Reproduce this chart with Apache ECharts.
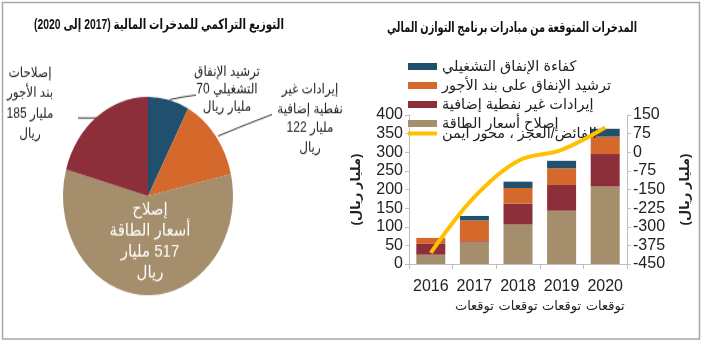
<!DOCTYPE html>
<html>
<head>
<meta charset="utf-8">
<script src="https://cdn.jsdelivr.net/npm/echarts@6/dist/echarts.min.js"></script>
<style>
  html, body { margin:0; padding:0; background:#fff; }
  #main { position:absolute; left:0; top:0; width:702px; height:343px; }
  #pie { position:absolute; left:0; top:0; width:360px; height:294px;
         transform:scaleY(1.1667); transform-origin:0 0; }
</style>
</head>
<body>
<div id="main"></div>
<div id="pie"></div>
<script>
// ---------- data ----------
const categories = ['2016', '2017', '2018', '2019', '2020'];
const categorySub = ['', 'توقعات', 'توقعات', 'توقعات', 'توقعات'];
const energyReform = [25, 58, 106, 143, 208];     // إصلاح أسعار الطاقة
const nonOilRevenue = [29, 3, 56, 69, 87];        // إيرادات غير نفطية إضافية
const wageRationalization = [16, 56, 42, 45, 47]; // ترشيد الإنفاق على بند الأجور
const opEfficiency = [0, 12, 17, 20, 21];         // كفاءة الإنفاق التشغيلي
const fiscalBalance = [-405, -180, -35, 10, 100]; // الفائض/العجز
const leftTicks = { min: 0, max: 400, interval: 50 };
const rightTicks = { min: -450, max: 150, interval: 75 };

const LRM = '\u200E', RLM = '\u200F';
const pieNames = ['ترشيد الإنفاق التشغيلي', 'إيرادات غير نفطية إضافية', 'إصلاح أسعار الطاقة', 'إصلاحات بند الأجور'];
const pieValues = [70, 122, 517, 185];
const pieLabelText = [
  'ترشيد الإنفاق\n' + RLM + 'التشغيلي #\nمليار ريال',
  'إيرادات غير\nنفطية إضافية\n' + LRM + '# مليار\nريال',
  'إصلاح\nأسعار الطاقة\n' + RLM + '# مليار\nريال',
  'إصلاحات\nبند الأجور\n' + LRM + '# مليار\nريال'
];

const titleRight = 'المدخرات المتوقعة من مبادرات برنامج التوازن المالي';
const titleLeft = RLM + 'التوزيع التراكمي للمدخرات المالية (2017 إلى 2020)' + RLM;
const axisUnit = RLM + '(مليار ريال)' + RLM;
const sName = {
  eff: 'كفاءة الإنفاق التشغيلي',
  wage: 'ترشيد الإنفاق على بند الأجور',
  nonoil: 'إيرادات غير نفطية إضافية',
  energy: 'إصلاح أسعار الطاقة',
  bal: 'الفائض/العجز ، محور أيمن'
};

// ---------- style ----------
const FONT = 'Liberation Sans, Arial, DejaVu Sans, sans-serif';
const C = { blue:'#21506f', orange:'#d4692b', red:'#8d2f3a', tan:'#a48e6c', yellow:'#ffc000', axis:'#bfbfbf', text:'#222' };
const TITLE_FONT = 'bold 14px ' + FONT;

// horizontal condensing of the titles to the reference footprint
const mctx = document.createElement('canvas').getContext('2d');
mctx.font = TITLE_FONT;
const fitX = (t, w) => Math.min(1, w / mctx.measureText(t).width);

const main = echarts.init(document.getElementById('main'), null, { renderer:'canvas' });
main.setOption({
  backgroundColor:'#fff',
  textStyle:{ fontFamily: FONT },
  animation:false,
  graphic:[
    { type:'rect', shape:{ x:2.5, y:2.5, width:697, height:336.5 }, style:{ fill:'none', stroke:'#a6a6a6', lineWidth:1.5 }, z:100 },
    { type:'text', x:512, y:28, scaleX:fitX(titleRight, 250), style:{ text:titleRight, align:'center', verticalAlign:'middle', font:TITLE_FONT, fill:'#111' } },
    { type:'text', x:159, y:25, scaleX:fitX(titleLeft, 250), style:{ text:titleLeft, align:'center', verticalAlign:'middle', font:TITLE_FONT, fill:'#111' } }
  ],
  legend:[{
    orient:'vertical', left:403, top:54, itemWidth:29, itemHeight:7, itemGap:4, icon:'rect',
    textStyle:{ fontSize:14.5, lineHeight:13, color:C.text, fontFamily:FONT },
    data:[ sName.eff, sName.wage, sName.nonoil, sName.energy ]
  }, {
    orient:'vertical', left:403, top:121, itemWidth:29, itemHeight:4, icon:'rect',
    textStyle:{ fontSize:14.5, lineHeight:13, color:C.text, fontFamily:FONT },
    data:[ sName.bal ]
  }],
  grid:{ left:409, right:75, top:115, bottom:79 },
  xAxis:{
    type:'category', data:categories,
    axisLine:{ lineStyle:{ color:C.axis, width:1 } },
    axisTick:{ show:true, length:5, lineStyle:{ color:C.axis } },
    axisLabel:{
      margin:13, interval:0,
      formatter:(v, i) => categorySub[i] ? '{y|' + v + '}\n{a|' + categorySub[i] + '}' : '{y|' + v + '}',
      rich:{
        y:{ fontSize:16, color:C.text, lineHeight:20, fontFamily:FONT },
        a:{ fontSize:13, color:C.text, lineHeight:18, fontFamily:FONT }
      }
    }
  },
  yAxis:[
    { type:'value', min:leftTicks.min, max:leftTicks.max, interval:leftTicks.interval,
      axisLine:{ show:true, lineStyle:{ color:C.axis } },
      axisTick:{ show:true, length:4, lineStyle:{ color:C.axis } },
      splitLine:{ show:false },
      axisLabel:{ fontSize:16, color:C.text, margin:6 },
      name:axisUnit, nameLocation:'middle', nameRotate:90, nameGap:46,
      nameTextStyle:{ fontSize:13, fontWeight:'bold', color:C.text } },
    { type:'value', position:'right', min:rightTicks.min, max:rightTicks.max, interval:rightTicks.interval,
      axisLine:{ show:true, lineStyle:{ color:C.axis } },
      axisTick:{ show:true, length:4, lineStyle:{ color:C.axis } },
      splitLine:{ show:false },
      axisLabel:{ fontSize:16, color:C.text, margin:6 },
      name:axisUnit, nameLocation:'middle', nameRotate:90, nameGap:52,
      nameTextStyle:{ fontSize:13, fontWeight:'bold', color:C.text } }
  ],
  series:[
    { name:sName.energy, type:'bar', stack:'s', data:energyReform, barWidth:29, itemStyle:{ color:C.tan } },
    { name:sName.nonoil, type:'bar', stack:'s', data:nonOilRevenue, itemStyle:{ color:C.red } },
    { name:sName.wage, type:'bar', stack:'s', data:wageRationalization, itemStyle:{ color:C.orange } },
    { name:sName.eff, type:'bar', stack:'s', data:opEfficiency, itemStyle:{ color:C.blue } },
    { name:sName.bal, type:'line', yAxisIndex:1, data:fiscalBalance, smooth:0.35, symbol:'none',
      lineStyle:{ color:C.yellow, width:4 }, itemStyle:{ color:C.yellow }, z:5 }
  ]
});

// ---------- pie (vertically stretched via CSS like the reference) ----------
const SY = 1.1667;
const pieColors = [C.blue, C.orange, C.tan, C.red];
const labelAnchors = [ [227, 90], [310, 118.5], [150, 241], [30, 103.5] ];
const labelLineHeights = [15, 16.5, 18, 17.2];
const labelLines = [
  [[170, 99.5], [183, 97], [196, 95]],
  [[218, 136], [245, 125], [272, 114.5]],
  null,
  [[96, 118], [87, 118], [78, 118]]
];
const pie = echarts.init(document.getElementById('pie'), null, { renderer:'canvas' });
pie.setOption({
  animation:false,
  textStyle:{ fontFamily: FONT },
  series:[{
    type:'pie', center:[148, 168], radius:85, startAngle:90, clockwise:true,
    label:{
      show:true, position:'outside', fontSize:12, lineHeight:16, color:'#222', fontFamily:FONT, align:'center',
      overflow:'none', edgeDistance:0,
      formatter:(p) => pieLabelText[p.dataIndex].replace('#', p.value)
    },
    labelLine:{ show:true, lineStyle:{ color:'#333', width:1 } },
    labelLayout:(p) => {
      const i = p.dataIndex;
      const a = labelAnchors[i];
      const o = { x:a[0], y:a[1] / SY, align:'center', verticalAlign:'middle', width:100 };
      if (labelLines[i]) o.labelLinePoints = labelLines[i].map(q => [q[0], q[1] / SY]);
      return o;
    },
    data: pieValues.map((v, i) => {
      const d = { name:pieNames[i], value:v, itemStyle:{ color:pieColors[i] },
                  label:{ lineHeight:labelLineHeights[i] } };
      if (i === 2) {
        d.label = { position:'inside', color:'#fff', fontSize:15, lineHeight:labelLineHeights[i] };
        d.labelLine = { show:false };
      }
      return d;
    })
  }]
});
</script>
</body>
</html>
